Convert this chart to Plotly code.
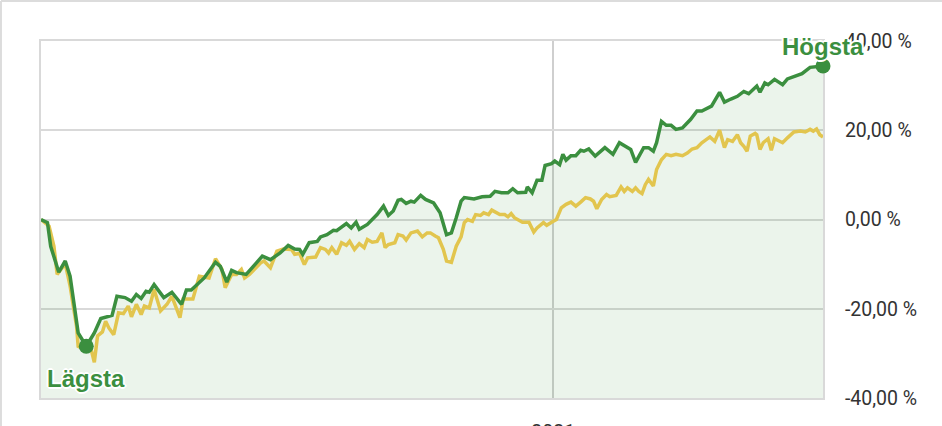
import pandas as pd
import plotly.graph_objects as go

# ---- data ----
START_DATE = "2020-02-19"
END_DATE = "2021-06-17"

fund_day = [0, 4, 6, 11, 15, 18, 23, 28, 33, 37, 44, 47, 52, 56, 59, 62, 65, 67, 70, 76, 81, 87, 90, 93,
            101, 108, 111, 115, 118, 121, 127, 137, 142, 148, 153, 157, 160, 162, 166, 171, 173, 177, 181,
            183, 189, 192, 195, 197, 202, 206, 208, 212, 215, 218, 221, 223, 226, 229, 231, 235, 238, 243,
            247, 251, 254, 257, 260, 262, 268, 273, 278, 281, 285, 289, 292, 295, 300, 301, 304, 307, 310,
            312, 316, 318, 321, 323, 325, 328, 331, 334, 336, 339, 343, 349, 354, 358, 361, 365, 368, 373,
            376, 379, 381, 384, 387, 390, 393, 397, 402, 406, 409, 413, 415, 420, 423, 427, 431, 435, 438,
            443, 445, 448, 450, 454, 456, 459, 462, 467, 471, 476, 479, 484]
fund_val = [0, -0.7, -6.0, -11.8, -9.3, -12.7, -25.4, -28.4, -25.4, -22.2, -21.5, -17.2, -17.5, -18.3,
            -16.8, -17.7, -16.1, -16.3, -14.6, -17.5, -16.3, -19.0, -15.8, -15.8, -13.1, -9.6, -10.5, -14.0,
            -11.4, -11.9, -12.3, -8.2, -9.0, -7.5, -5.8, -6.6, -6.7, -7.8, -5.2, -4.9, -3.9, -3.4, -2.4,
            -2.5, -0.9, -1.9, -0.6, -2.2, -1.1, 0.5, 1.1, 3.0, 0.9, 1.9, 4.3, 4.5, 3.6, 4.1, 3.9, 5.4, 4.5,
            3.7, 1.5, -3.4, -3.0, 0.4, 4.1, 4.9, 4.6, 5.1, 5.2, 6.3, 6.0, 6.0, 6.9, 6.0, 6.1, 7.3, 6.0, 8.8,
            8.8, 12.1, 12.5, 13.1, 12.3, 14.6, 13.3, 14.3, 14.3, 15.5, 15.3, 15.8, 14.2, 16.1, 14.6, 17.2,
            16.6, 15.7, 12.8, 16.1, 16.1, 15.3, 17.2, 22.0, 21.1, 21.1, 20.2, 20.5, 22.4, 24.3, 24.3, 25.0,
            25.4, 28.5, 26.3, 27.0, 27.6, 28.7, 28.2, 29.9, 28.5, 30.6, 30.2, 31.4, 31.0, 30.2, 31.5, 32.1,
            32.7, 34.1, 34.2, 34.4]

index_day = [0, 5, 8, 10, 15, 18, 22, 23, 27, 30, 33, 35, 38, 40, 42, 45, 48, 51, 54, 56, 59, 62, 64, 67,
             70, 74, 78, 81, 86, 88, 94, 98, 104, 108, 112, 114, 118, 121, 124, 126, 129, 136, 138, 142,
             146, 150, 155, 157, 160, 163, 165, 170, 173, 176, 178, 180, 183, 186, 189, 191, 194, 197, 200,
             202, 205, 208, 211, 213, 215, 219, 221, 224, 226, 229, 233, 236, 239, 241, 244, 246, 249, 251,
             254, 257, 260, 262, 264, 267, 269, 272, 274, 277, 279, 282, 284, 287, 289, 291, 293, 298, 301,
             302, 305, 307, 311, 313, 316, 319, 322, 325, 328, 331, 334, 337, 340, 342, 344, 347, 350, 352,
             356, 359, 361, 363, 366, 368, 370, 372, 374, 376, 379, 381, 384, 387, 390, 393, 397, 400, 403,
             406, 409, 412, 414, 417, 420, 423, 425, 428, 431, 433, 435, 437, 439, 442, 443, 445, 447, 450,
             452, 454, 457, 459, 462, 466, 470, 473, 476, 478, 480, 482, 484]
index_val = [0, -1.5, -6.0, -12.3, -9.9, -14.9, -23.9, -28.4, -29.1, -27.6, -32.0, -26.1, -25.2, -22.8,
             -24.3, -25.8, -20.9, -21.1, -19.4, -21.8, -19.0, -21.3, -19.4, -19.8, -15.7, -20.5, -19.0,
             -17.2, -22.0, -17.8, -17.8, -12.7, -13.1, -8.8, -11.2, -15.3, -12.3, -12.3, -11.2, -13.1,
             -12.3, -9.7, -9.3, -10.8, -7.1, -6.6, -6.7, -7.8, -7.6, -10.1, -8.6, -8.4, -6.3, -6.7, -7.5,
             -6.3, -7.8, -5.2, -5.8, -4.9, -6.7, -5.4, -6.3, -4.5, -5.1, -4.9, -3.0, -6.3, -5.6, -5.2, -3.4,
             -3.7, -4.6, -3.0, -2.6, -3.9, -3.0, -3.0, -3.7, -4.1, -6.7, -9.3, -9.6, -6.0, -3.9, -0.7, 0.0,
             -0.4, 1.1, 0.9, 1.5, 1.1, 2.1, 1.6, 1.1, 1.1, 0.6, 1.3, 0.4, -0.6, -0.7, -0.6, -2.8, -1.9,
             -0.7, -1.3, -0.6, 0.0, 2.6, 3.4, 3.9, 3.0, 3.9, 4.9, 4.6, 4.1, 2.4, 4.5, 5.6, 5.1, 5.4, 7.3,
             6.3, 7.1, 6.3, 7.1, 6.3, 5.8, 7.8, 9.0, 7.5, 11.2, 13.4, 14.6, 14.3, 14.6, 14.3, 14.9, 15.8,
             16.1, 17.2, 17.9, 18.5, 17.5, 20.0, 16.1, 17.9, 17.5, 19.0, 17.2, 16.4, 15.3, 18.7, 19.3, 19.0,
             15.7, 17.2, 18.1, 15.5, 18.1, 17.5, 17.2, 18.3, 19.6, 19.8, 19.6, 20.2, 19.8, 20.3, 19.0, 18.5]

y_ticks = [40, 20, 0, -20, -40]
y_tick_text = ["40,00 %", "20,00 %", "0,00 %", "-20,00 %", "-40,00 %"]
x_ticks = ["2021-01-01"]
x_tick_text = ["2021"]
low_label = "Lägsta"
high_label = "Högsta"

# ---- styling ----
GREEN = "#3b8f3f"
YELLOW = "#e2c54e"
FILL = "rgba(59,143,63,0.10)"
GRID = "#d9d9d9"
Y_MIN, Y_MAX = -40, 40

start = pd.Timestamp(START_DATE)
fund_x = start + pd.to_timedelta(fund_day, unit="D")
index_x = start + pd.to_timedelta(index_day, unit="D")

fund = pd.Series(fund_val, index=fund_x)
lo_x, lo_y = fund.idxmin(), fund.min()
hi_x, hi_y = fund.idxmax(), fund.max()

fig = go.Figure()
# baseline for area fill
fig.add_trace(go.Scatter(x=fund_x, y=[Y_MIN] * len(fund_x), mode="lines",
                         line=dict(width=0), hoverinfo="skip", showlegend=False))
fig.add_trace(go.Scatter(x=fund_x, y=fund_val, mode="lines", fill="tonexty",
                         fillcolor=FILL, line=dict(width=0), hoverinfo="skip", showlegend=False))
fig.add_trace(go.Scatter(x=index_x, y=index_val, mode="lines",
                         line=dict(color=YELLOW, width=3.5), showlegend=False))
fig.add_trace(go.Scatter(x=fund_x, y=fund_val, mode="lines",
                         line=dict(color=GREEN, width=3.5), showlegend=False))
fig.add_trace(go.Scatter(x=[lo_x, hi_x], y=[lo_y, hi_y], mode="markers",
                         marker=dict(color=GREEN, size=15), showlegend=False, cliponaxis=False))

halo = ("1px 1px 0 #fff, -1px -1px 0 #fff, 1px -1px 0 #fff, -1px 1px 0 #fff, "
        "0 2px 0 #fff, 0 -2px 0 #fff, 2px 0 0 #fff, -2px 0 0 #fff")
lab_font = dict(family="Liberation Sans, Arial, sans-serif", size=24, color=GREEN,
                weight="bold", shadow=halo)
fig.add_annotation(x=lo_x, y=lo_y, text=low_label, showarrow=False, xanchor="center",
                   yanchor="middle", yshift=-32, font=lab_font)
fig.add_annotation(x=hi_x, y=hi_y, text=high_label, showarrow=False, xanchor="center",
                   yanchor="middle", yshift=19, font=lab_font)

# outer container border (top and left)
fig.add_shape(type="line", xref="paper", yref="paper", x0=-0.0512, x1=1.2, y0=1.112, y1=1.112,
              line=dict(color="#dcdcdc", width=2), layer="below")
fig.add_shape(type="line", xref="paper", yref="paper", x0=-0.0512, x1=-0.0512, y0=-0.2, y1=1.112,
              line=dict(color="#dcdcdc", width=2), layer="below")

tick_font = dict(family="Roboto, sans-serif", size=19.5, color="#333333")
fig.update_layout(
    width=942, height=426,
    margin=dict(l=41, r=119, t=41, b=28, autoexpand=False),
    paper_bgcolor="white", plot_bgcolor="white",
    showlegend=False,
    xaxis=dict(type="date", range=[START_DATE, END_DATE], tickvals=x_ticks, ticktext=x_tick_text,
               showgrid=True, gridcolor="#cfcfcf", gridwidth=1.5, ticks="", tickfont=tick_font,
               showline=True, linecolor=GRID, linewidth=2, mirror=True, zeroline=False,
               ticklabelstandoff=16, automargin=False, fixedrange=True, layer="below traces"),
    yaxis=dict(range=[Y_MIN, Y_MAX], side="right", tickvals=y_ticks, ticktext=y_tick_text,
               showgrid=True, gridcolor=GRID, gridwidth=1.5, ticks="", tickfont=tick_font,
               showline=True, linecolor=GRID, linewidth=2, mirror=True, zeroline=False,
               ticklabelstandoff=16, automargin=False, fixedrange=True, layer="below traces"),
)

fig.write_html("out.html", config={"displayModeBar": False},
               post_script="document.body.style.margin='0px';")
